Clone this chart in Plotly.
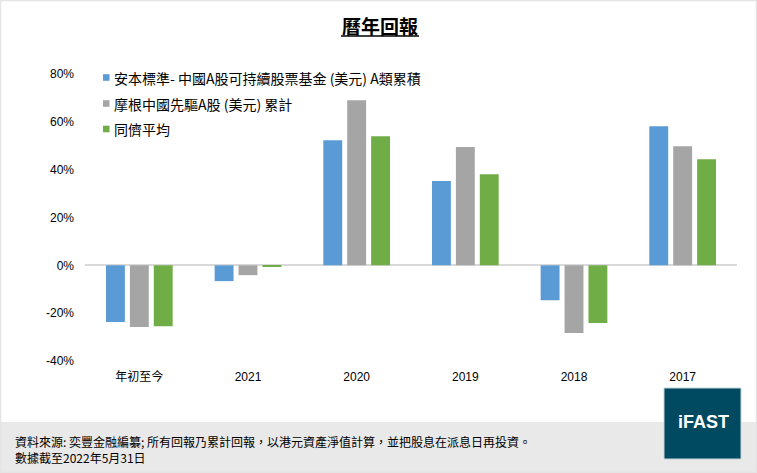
import plotly.graph_objects as go

# categories and returns (%)
categories = ["年初至今", "2021", "2020", "2019", "2018", "2017"]
fund_names = [
    "安本標準- 中國A股可持續股票基金 (美元) A類累積",
    "摩根中國先驅A股 (美元) 累計",
    "同儕平均",
]
fund_a = [-23.7, -6.6, 52.3, 35.3, -14.6, 58.2]
fund_b = [-25.8, -4.1, 69.0, 49.5, -28.3, 49.8]
peer_avg = [-25.5, -0.6, 54.0, 38.1, -24.1, 44.4]
y_ticks = [-40, -20, 0, 20, 40, 60, 80]

colors = ["#5B9BD5", "#A5A5A5", "#70AD47"]
font_family = "Liberation Sans, Arial, Noto Sans CJK TC, sans-serif"
cjk_font = "Noto Sans CJK TC"

W, H = 757, 473
ml, mr, mt, mb = 85, 20, 74, 112
pw, ph = W - ml - mr, H - mt - mb


# helpers to turn pixel positions into paper coords
def px_x(x):
    return (x - ml) / pw


def px_y(y):
    return (H - mb - y) / ph


fig = go.Figure()
for name, vals, col in zip(fund_names, [fund_a, fund_b, peer_avg], colors):
    fig.add_trace(go.Bar(
        x=categories, y=vals, name=name,
        marker=dict(color=col, line=dict(width=0)),
        showlegend=False, hoverinfo="skip",
    ))

# footer band, border and logo box
shapes = [
    dict(type="rect", xref="paper", yref="paper", layer="below",
         x0=px_x(0), x1=px_x(W), y0=px_y(H), y1=px_y(422),
         fillcolor="#E9E9E9", line=dict(width=0)),
    dict(type="rect", xref="paper", yref="paper",
         x0=px_x(0.5), x1=px_x(W - 0.5), y0=px_y(H - 0.5), y1=px_y(0.5),
         fillcolor="rgba(0,0,0,0)", line=dict(color="#E4E4E4", width=1.5)),
    dict(type="rect", xref="paper", yref="paper",
         x0=px_x(664), x1=px_x(741), y0=px_y(459), y1=px_y(388),
         fillcolor="#004A61", line=dict(color="#C8D3D8", width=1)),
    # title underline
    dict(type="line", xref="paper", yref="paper",
         x0=px_x(341), x1=px_x(419), y0=px_y(36), y1=px_y(36),
         line=dict(color="black", width=1.5)),
]

annotations = [
    dict(text="<b>曆年回報</b>", xref="paper", yref="paper",
         x=px_x(380), y=px_y(25), xanchor="center", yanchor="middle",
         showarrow=False,
         font=dict(size=19, color="black", family=cjk_font)),
    dict(text="<b>iFAST</b>", xref="paper", yref="paper",
         x=px_x(703), y=px_y(422), xanchor="center", yanchor="middle",
         showarrow=False,
         font=dict(size=18, color="white", family="Liberation Sans, Arial")),
    dict(text="資料來源: 奕豐金融編纂; 所有回報乃累計回報，以港元資產淨值計算，並把股息在派息日再投資。",
         xref="paper", yref="paper", x=px_x(13), y=px_y(441),
         xanchor="left", yanchor="middle", showarrow=False,
         font=dict(size=12, color="black", family=cjk_font)),
    dict(text="數據截至2022年5月31日",
         xref="paper", yref="paper", x=px_x(13), y=px_y(457),
         xanchor="left", yanchor="middle", showarrow=False,
         font=dict(size=12, color="black", family=cjk_font)),
]

# legend drawn by hand: small squares and labels in the top-left corner
legend_rows = [77.5, 103.5, 129]
for name, col, ry in zip(fund_names, colors, legend_rows):
    shapes.append(dict(type="rect", xref="paper", yref="paper",
                       x0=px_x(103), x1=px_x(109.5),
                       y0=px_y(ry + 3.3), y1=px_y(ry - 3.3),
                       fillcolor=col, line=dict(width=0)))
    annotations.append(dict(text=name, xref="paper", yref="paper",
                            x=px_x(112), y=px_y(ry), xanchor="left",
                            yanchor="middle", showarrow=False,
                            font=dict(size=14, color="black", family=cjk_font)))

fig.update_layout(
    width=W, height=H,
    margin=dict(l=ml, r=mr, t=mt, b=mb),
    paper_bgcolor="white", plot_bgcolor="white",
    barmode="group", bargap=0.34, bargroupgap=0.21,
    font=dict(family=font_family, size=12, color="#222222"),
    xaxis=dict(showgrid=False, showline=False, zeroline=False, ticks="",
               ticklabelstandoff=7,
               tickfont=dict(size=12, family=font_family, color="black")),
    yaxis=dict(range=[-40, 80], tickvals=y_ticks,
               ticktext=[f"{v}%" for v in y_ticks],
               showgrid=False, showline=False,
               zeroline=True, zerolinecolor="#D9D9D9", zerolinewidth=2,
               ticks="", ticklabelstandoff=10,
               tickfont=dict(size=12, family=font_family, color="black")),
    showlegend=False,
    shapes=shapes, annotations=annotations,
)

fig.write_html("out.html", config={"displayModeBar": False},
               post_script="document.body.style.margin='0';")
